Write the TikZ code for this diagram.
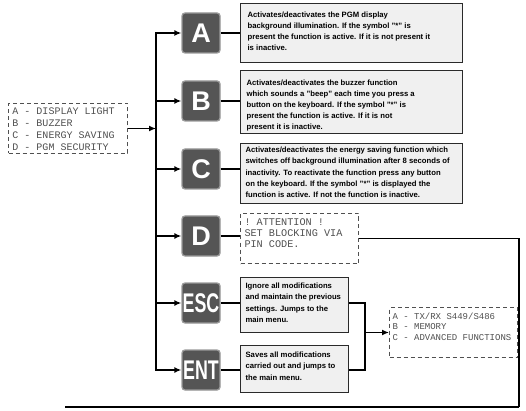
\documentclass[tikz,border=0pt]{standalone}
\usepackage{fontspec}
\usepackage{graphicx}
\setmainfont{Liberation Sans}
\setmonofont{Liberation Mono}
\usetikzlibrary{arrows.meta}
\definecolor{kfill}{HTML}{555555}
\definecolor{kedge}{HTML}{9A9A9A}
\definecolor{tfill}{HTML}{F0F0F0}
\definecolor{tedge}{HTML}{2A2A2A}
\definecolor{monotext}{HTML}{505050}
\definecolor{dashcol}{HTML}{505050}
\newcommand\tbtext[4]{\parbox[c][#2][t]{#1}{\raggedright\vspace*{#3}#4}}
\begin{document}
\begin{tikzpicture}[x=1pt,y=-1pt,
 kbox/.style={rounded corners=3pt, fill=kfill, draw=kedge, line width=1.3pt,
   minimum width=38pt, minimum height=40pt, inner sep=0pt, text=white,
   font=\fontsize{27}{27}\selectfont\bfseries},
 tbox/.style={draw=tedge, fill=tfill, line width=1.2pt, inner xsep=5pt, inner ysep=0pt,
   anchor=north west, font=\fontsize{7.7}{11.2}\selectfont\bfseries},
 dbox/.style={draw=dashcol, dash pattern=on 4pt off 3pt, line width=1pt, fill=white,
   inner xsep=4pt, inner ysep=0pt, anchor=north west, text=monotext},
 conn/.style={line width=1.4pt, black},
 arr/.style={conn, -{Latex[length=7pt,width=6pt]}}
]
\useasboundingbox (0,0) rectangle (526,411);

% left menu box
\node[dbox, font=\fontsize{10}{12}\selectfont\ttfamily] (lb) at (8,103)
  {\tbtext{111pt}{50pt}{4pt}{A - DISPLAY LIGHT\\B - BUZZER\\C - ENERGY SAVING\\D - PGM SECURITY}};

% key boxes
\node[kbox] (kA) at (201,33) {A};
\node[kbox] (kB) at (201,101) {B};
\node[kbox] (kC) at (201,169) {C};
\node[kbox] (kD) at (201,236) {D};
\node[kbox] (kE) at (201,303) {\scalebox{0.66}[1]{ESC}};
\node[kbox] (kN) at (201,370) {\scalebox{0.66}[1]{ENT}};

% description boxes
\node[tbox, inner xsep=7pt] (tA) at (240,3) {\tbtext{208pt}{59pt}{8pt}{Activates/deactivates the PGM display\\background illumination. If the symbol "*" is\\present the function is active. If it is not present it\\is inactive.}};
\node[tbox, inner xsep=6pt] (tB) at (240,70) {\tbtext{210pt}{63pt}{9pt}{Activates/deactivates the buzzer function\\which sounds a "beep" each time you press a\\button on the keyboard. If the symbol "*" is\\present the function is active. If it is not\\present it is inactive.}};
\node[tbox] (tC) at (240,143) {\tbtext{212pt}{60pt}{3.5pt}{Activates/deactivates the energy saving function which\\switches off background illumination after 8 seconds of\\inactivity. To reactivate the function press any button\\on the keyboard. If the symbol "*" is displayed the\\function is active. If not the function is inactive.}};
\node[dbox, font=\fontsize{10.2}{11}\selectfont\ttfamily] (tD) at (240,213)
  {\tbtext{110pt}{50pt}{5pt}{! ATTENTION !\\SET BLOCKING VIA\\PIN CODE.}};
\node[tbox] (tE) at (240,277) {\tbtext{98pt}{55pt}{5.5pt}{Ignore all modifications\\and maintain the previous\\settings. Jumps to the\\main menu.}};
\node[tbox] (tN) at (240,345) {\tbtext{98pt}{47pt}{6.5pt}{Saves all modifications\\carried out and jumps to\\the main menu.}};

% sub menu box
\node[dbox, inner xsep=3pt, font=\fontsize{9}{10.7}\selectfont\ttfamily] (m3) at (389,307)
  {\tbtext{122pt}{50pt}{5pt}{A - TX/RX S449/S486\\B - MEMORY\\C - ADVANCED FUNCTIONS}};

% coordinates
\coordinate (sx) at (156,0);
\coordinate (xr) at (365,0);
\coordinate (bR) at (519,407);
\coordinate (bL) at (65,407);

% spine and arrows
\draw[conn, {Latex[length=7pt,width=6pt]}-{Latex[length=7pt,width=6pt]}]
  (kA.west) -- (kA.west -| sx) -- (kN.west -| sx) -- (kN.west);
\foreach \k in {kB,kC,kD,kE}{\draw[arr] (\k.west -| sx) -- (\k.west);}
\draw[arr] (lb.east) -- (lb.east -| sx);

% key to description
\foreach \k/\t in {kA/tA,kB/tB,kC/tC,kD/tD,kE/tE,kN/tN}{\draw[conn] (\k.east) -- (\k.east -| \t.west);}

% ESC / ENT to sub menu
\draw[conn] (kE.east -| tE.east) -- (kE.east -| xr) -- (kN.east -| xr) -- (kN.east -| tN.east);
\draw[arr] (m3.west -| xr) -- (m3.west);

% D return line
\draw[conn] (tD.east) -- (tD.east -| bR) -- (bR);
\draw[line width=1.8pt] (bR) -- (bL);
\end{tikzpicture}
\end{document}
